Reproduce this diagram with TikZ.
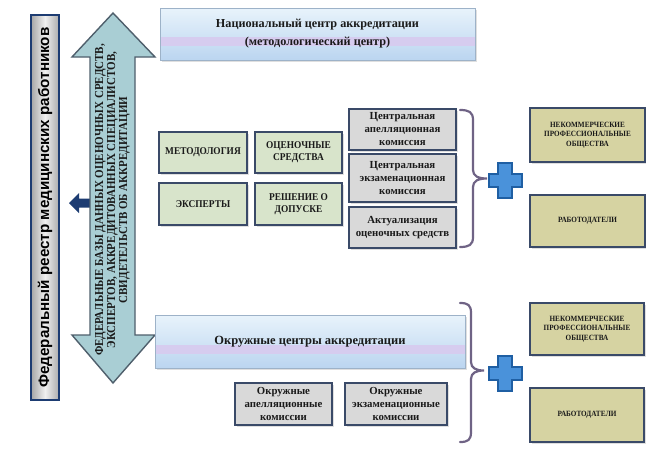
\documentclass[tikz,border=0pt]{standalone}
\usepackage{fontspec}
\setmainfont{Liberation Serif}
\newfontfamily\barfont{Liberation Sans}
\newfontfamily\condfont[FakeStretch=0.9]{Liberation Serif}
\usetikzlibrary{shadows,calc}
\definecolor{slate}{HTML}{3A4A68}
\definecolor{boxtext}{HTML}{1A1A1A}
\definecolor{sage}{HTML}{D8E4CB}
\definecolor{lgray}{HTML}{D9D9D9}
\definecolor{khaki}{HTML}{D6D3A2}
\definecolor{navy}{HTML}{1D3C72}
\definecolor{teal}{HTML}{A9CED4}
\definecolor{tealborder}{HTML}{4F5F6C}
\definecolor{bracec}{HTML}{6F6385}
\definecolor{plusfill}{HTML}{4A92DA}
\definecolor{plusline}{HTML}{1F5FA3}
\definecolor{skytop}{HTML}{E8F3FB}
\definecolor{skybot}{HTML}{BBD5F0}
\definecolor{band}{HTML}{D6CCEF}
\definecolor{skyline}{HTML}{9DB2C8}
\begin{document}
\begin{tikzpicture}[x=1pt,y=-1pt,
  softshadow/.style={drop shadow={opacity=0.25,shadow xshift=1.5pt,shadow yshift=-1.5pt}},
  card/.style={draw=slate,line width=2.2pt,inner sep=1pt,align=center,text=boxtext,font=\bfseries,softshadow},
  greenbox/.style={card,fill=sage,font=\condfont\fontsize{10.4}{12}\selectfont\bfseries},
  graybox/.style={card,fill=lgray,font=\fontsize{10.8}{13}\selectfont\bfseries},
  khakibox/.style={card,fill=khaki,font=\condfont\fontsize{8}{9.5}\selectfont\bfseries},
  skybox/.style={draw=skyline,line width=0.8pt,top color=skytop,bottom color=skybot,align=center,
    text=boxtext,softshadow,
    path picture={\fill[band] ($(path picture bounding box.south west)!0.27!(path picture bounding box.north west)$)
      rectangle ($(path picture bounding box.south east)!0.44!(path picture bounding box.north east)$);}},
  bracestyle/.style={draw=bracec,line width=2.2pt,line cap=round},
  plusstyle/.style={fill=plusfill,draw=plusline,line width=1.3pt,line join=miter}
]
\useasboundingbox (0,0) rectangle (646,453);

% Left register bar
\node[draw=navy,line width=2.6pt,minimum width=28pt,minimum height=385pt,inner sep=0pt,
  left color=gray!70,right color=gray!65,middle color=gray!12] (bar) at (45,207.5) {};
\node[rotate=90,font=\barfont\fontsize{15.2}{17}\selectfont\bfseries,text=black] (bartext) at (bar.center) {Федеральный реестр медицинских работников};

% small arrow pointing to the register
\fill[navy] (69,203) -- (79,193) -- (79,198.5) -- (91,198.5) -- (91,207.5) -- (79,207.5) -- (79,213) -- cycle;
\coordinate (smallarrow) at (80,203);

% big double arrow
\draw[fill=teal,draw=tealborder,line width=1.4pt,line join=miter]
  (113,13) -- (155,57) -- (135,57) -- (135,335) -- (155,335) -- (113,383) -- (72,335) -- (90,335) -- (90,57) -- (72,57) -- cycle;
\node[rotate=90,align=center,text=boxtext,font=\condfont\fontsize{12.2}{12}\selectfont\bfseries] (arrowtext) at (112.5,200)
  {ФЕДЕРАЛЬНЫЕ БАЗЫ ДАННЫХ ОЦЕНОЧНЫХ СРЕДСТВ,\\ЭКСПЕРТОВ, АККРЕДИТОВАННЫХ СПЕЦИАЛИСТОВ,\\СВИДЕТЕЛЬСТВ ОБ АККРЕДИТАЦИИ};

% National center
\node[skybox,minimum width=315pt,minimum height=52pt,font=\fontsize{12.2}{18}\selectfont\bfseries] (nat) at (317.5,34)
  {Национальный центр аккредитации\\(методологический центр)};

% green boxes
\node[greenbox,minimum width=88pt,minimum height=41pt] (metod) at (203,152.5) {МЕТОДОЛОГИЯ};
\node[greenbox,minimum width=87pt,minimum height=41pt] (ocen) at (298.5,152.5) {ОЦЕНОЧНЫЕ\\СРЕДСТВА};
\node[greenbox,minimum width=88pt,minimum height=42pt] (exp) at (203,204) {ЭКСПЕРТЫ};
\node[greenbox,minimum width=87pt,minimum height=42pt] (resh) at (298.5,204) {РЕШЕНИЕ О\\ДОПУСКЕ};

% gray boxes
\node[graybox,minimum width=107pt,minimum height=41pt] (capp) at (402.5,129.5) {Центральная\\апелляционная\\комиссия};
\node[graybox,minimum width=107pt,minimum height=48pt] (cexam) at (402.5,178) {Центральная\\экзаменационная\\комиссия};
\node[graybox,minimum width=107pt,minimum height=41pt] (akt) at (402.5,227.5) {Актуализация\\оценочных средств};

% right top boxes
\node[khakibox,minimum width=115pt,minimum height=54pt] (nko1) at (587.5,135) {НЕКОММЕРЧЕСКИЕ\\ПРОФЕССИОНАЛЬНЫЕ\\ОБЩЕСТВА};
\node[khakibox,minimum width=115pt,minimum height=52pt] (rab1) at (587.5,221) {РАБОТОДАТЕЛИ};

% top brace
\coordinate (b1top) at (460,110);
\coordinate (b1tip) at (487,178.5);
\coordinate (b1bot) at (460,247);
\draw[bracestyle] (b1top) .. controls (469,110) and (473,112) .. (473,120) -- (473,170)
  .. controls (473,176) and (478,178.5) .. (b1tip) .. controls (478,178.5) and (473,181) .. (473,187)
  -- (473,237) .. controls (473,245) and (469,247) .. (b1bot);

% top plus
\draw[plusstyle] (498,163) -- (512,163) -- (512,174) -- (522,174) -- (522,187) -- (512,187) -- (512,198)
  -- (498,198) -- (498,187) -- (489,187) -- (489,174) -- (498,174) -- cycle;

% district centers
\node[skybox,minimum width=310pt,minimum height=53pt,font=\fontsize{12.5}{15}\selectfont\bfseries] (okr) at (310,341.5)
  {Окружные центры аккредитации};
\node[graybox,minimum width=97pt,minimum height=42pt] (okrapp) at (283.5,404) {Окружные\\апелляционные\\комиссии};
\node[graybox,minimum width=102pt,minimum height=42pt] (okrexam) at (396,404) {Окружные\\экзаменационные\\комиссии};

% bottom right boxes
\node[khakibox,minimum width=114pt,minimum height=52pt] (nko2) at (587,329) {НЕКОММЕРЧЕСКИЕ\\ПРОФЕССИОНАЛЬНЫЕ\\ОБЩЕСТВА};
\node[khakibox,minimum width=114pt,minimum height=54pt] (rab2) at (587,415) {РАБОТОДАТЕЛИ};

% bottom brace
\coordinate (b2top) at (460,303);
\coordinate (b2tip) at (484,370.5);
\coordinate (b2bot) at (460,442);
\draw[bracestyle] (b2top) .. controls (468,303) and (471,305) .. (471,313) -- (471,362)
  .. controls (471,368) and (476,370.5) .. (b2tip) .. controls (476,370.5) and (471,373) .. (471,379)
  -- (471,432) .. controls (471,440) and (468,442) .. (b2bot);

% bottom plus
\draw[plusstyle] (498,356) -- (512,356) -- (512,367) -- (522,367) -- (522,380) -- (512,380) -- (512,391)
  -- (498,391) -- (498,380) -- (489,380) -- (489,367) -- (498,367) -- cycle;
\end{tikzpicture}
\end{document}
